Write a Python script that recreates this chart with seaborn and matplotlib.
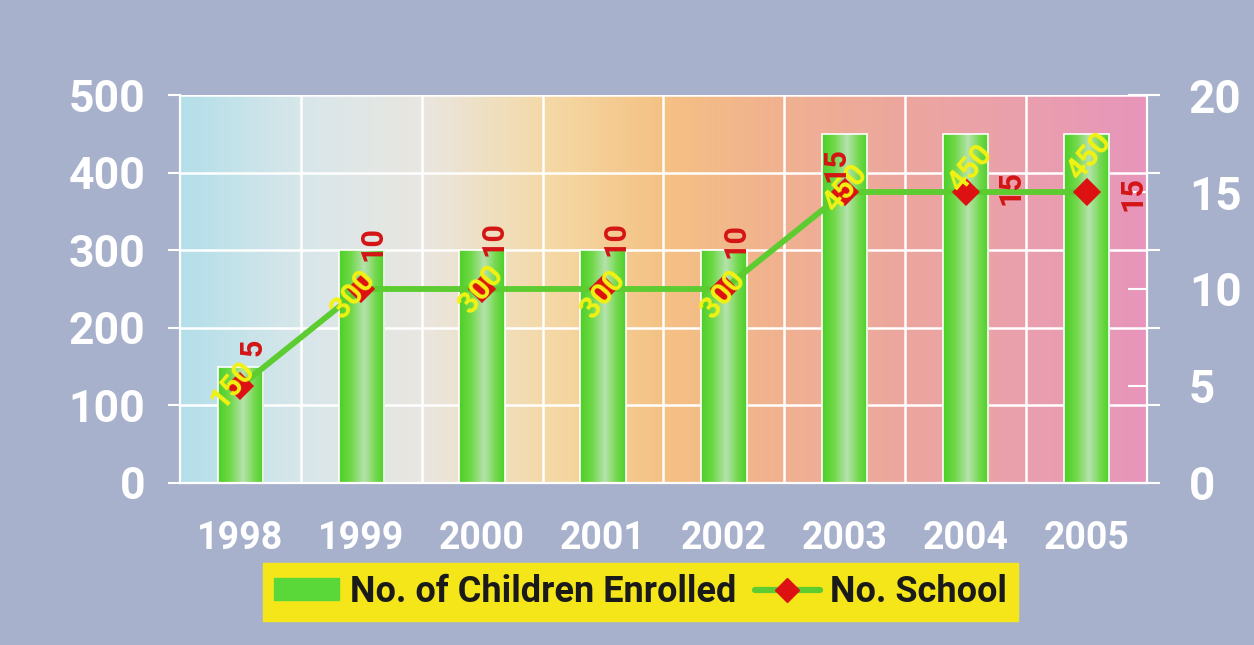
import numpy as np
import matplotlib.pyplot as plt
from matplotlib.colors import LinearSegmentedColormap
from matplotlib.patches import Patch
from matplotlib.lines import Line2D
import seaborn as sns

# Data
years = ["1998", "1999", "2000", "2001", "2002", "2003", "2004", "2005"]
children = [150, 300, 300, 300, 300, 450, 450, 450]
schools = [5, 10, 10, 10, 10, 15, 15, 15]

# label offsets (points) relative to the line points
yellow_offsets = [(-6, 1), (-6, -4), (-1, 0), (0, -4), (-1, -4), (0, 3), (3, 17), (2, 26)]
red_offsets = [(9, 28), (8, 33), (8, 36), (9, 36), (8, 35), (-7, 20), (32, 3), (33, -1)]

sns.set_theme(style="white")
plt.rcParams["font.family"] = ["Roboto", "DejaVu Sans"]
plt.rcParams["font.weight"] = "bold"

fig = plt.figure(figsize=(12.54, 6.45), dpi=100)
fig.patch.set_facecolor("#a7b1cc")
ax = fig.add_axes([0.1435, 0.2512, 0.7712, 0.6015])

# bars
sns.barplot(x=years, y=children, color="#55d935", width=0.375,
            edgecolor="white", linewidth=1.2, ax=ax)

# plot-area gradient
bg_cmap = LinearSegmentedColormap.from_list("bg", [
    (0.0, "#b4dfe9"), (0.13, "#d9e7ea"), (0.25, "#e9e6e0"),
    (0.38, "#f4d9a6"), (0.5, "#f5c183"), (0.62, "#f0b190"),
    (0.75, "#eca69e"), (0.88, "#ea9fae"), (1.0, "#e795bb")])
ax.imshow(np.linspace(0, 1, 256).reshape(1, -1), cmap=bg_cmap,
          extent=(-0.5, 7.5, 0, 500), aspect="auto", zorder=0)

# bar gradient, clipped to each bar
bar_cmap = LinearSegmentedColormap.from_list("bar", [
    (0.0, "#4ccf28"), (0.25, "#6ed845"), (0.55, "#b6e2ae"),
    (0.8, "#74d94e"), (1.0, "#4ccf28")])
for p in ax.patches:
    bb = p.get_bbox()
    im = ax.imshow(np.linspace(0, 1, 64).reshape(1, -1), cmap=bar_cmap,
                   extent=(bb.x0, bb.x1, bb.y0, bb.y1), aspect="auto", zorder=1.5)
    im.set_clip_path(p)
    p.set_facecolor("none")
    p.set_zorder(2)

ax.set_xlim(-0.5, 7.5)
ax.set_ylim(0, 500)
ax.set_yticks([0, 100, 200, 300, 400, 500])
ax.set_xticks(np.arange(0.5, 7), minor=True)
ax.set_axisbelow(True)
ax.grid(axis="y", which="major", color="white", linewidth=1.8)
ax.grid(axis="x", which="minor", color="white", linewidth=1.8)
ax.set_xlabel("")
ax.set_ylabel("")

# line on secondary axis
ax2 = ax.twinx()
sns.pointplot(x=years, y=schools, color="#5ccc30", markers="D", errorbar=None,
              markersize=11, linewidth=4.2, ax=ax2)
for ln in ax2.lines:
    ln.set_markerfacecolor("#dd1111")
    ln.set_markeredgecolor("#dd1111")
ax2.set_ylim(0, 20)
ax2.set_yticks([0, 5, 10, 15, 20])
ax2.set_ylabel("")
ax.set_xlim(-0.5, 7.5)

for i in range(len(years)):
    ax2.annotate(str(children[i]), xy=(i, schools[i]), xytext=yellow_offsets[i],
                 textcoords="offset points", ha="center", va="center",
                 rotation=50, color="#f2f212", fontsize=22, fontweight="bold")
    ax2.annotate(str(schools[i]), xy=(i, schools[i]), xytext=red_offsets[i],
                 textcoords="offset points", ha="center", va="center",
                 rotation=90, color="#d41414", fontsize=22, fontweight="bold")

# spines and ticks
for s in ["left", "bottom", "right"]:
    ax.spines[s].set_color("white")
    ax.spines[s].set_linewidth(1.6)
    ax.spines[s].set_visible(True)
ax.spines["top"].set_visible(False)
for s in ax2.spines.values():
    s.set_visible(False)

ax.tick_params(axis="y", which="major", direction="out", length=9, width=1.5,
               color="white", left=True, right=True, labelright=False,
               labelcolor="white", labelsize=32, pad=16)
ax.tick_params(axis="x", which="both", length=0, labelcolor="white",
               labelsize=27, pad=27)
ax2.tick_params(axis="y", direction="in", length=14, width=1.5, color="white",
                right=True, labelcolor="white", labelsize=33, pad=30)

# legend
handles = [Patch(facecolor="#5ad83a", edgecolor="#5ad83a"),
           Line2D([0], [0], color="#5ccc30", lw=4.5, marker="D", markersize=12,
                  markerfacecolor="#dd1111", markeredgecolor="#dd1111")]
leg = fig.legend(handles, ["No. of Children Enrolled", "No. School"], ncol=2,
                 loc="center", bbox_to_anchor=(0.511, 0.082), frameon=True,
                 fancybox=False, facecolor="#f5e61a", edgecolor="#f5e61a",
                 framealpha=1, fontsize=26, handlelength=1.8, handleheight=0.55,
                 columnspacing=0.5, handletextpad=0.3, borderpad=0.3)
for t in leg.get_texts():
    t.set_fontweight("bold")
    t.set_color("#1a1a1a")

plt.savefig("out.png", dpi=100, facecolor=fig.get_facecolor())
